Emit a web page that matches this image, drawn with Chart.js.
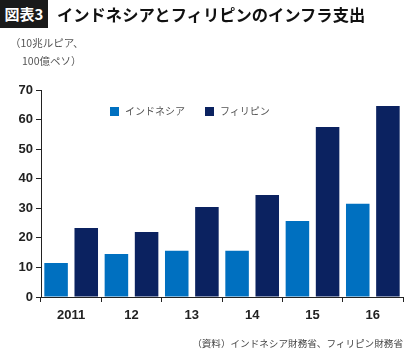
<!DOCTYPE html>
<html>
<head>
<meta charset="utf-8">
<script src="https://cdn.jsdelivr.net/npm/chart.js@4/dist/chart.umd.min.js"></script>
<style>
  body { margin: 0; background: #fff; }
  #wrap { position: relative; width: 418px; height: 360px; overflow: hidden; }
  #wrap canvas { position: absolute; left: 0; top: 0; }
  .jp { font-family: "Noto Sans CJK JP", sans-serif; position: absolute; white-space: nowrap; }
  #tag { left: 0; top: 0; width: 48px; height: 28px; background: #1a1a1a; color: #fff;
         font-weight: bold; font-size: 15px; line-height: 28px; text-align: center; }
  #title { left: 57px; top: 2px; font-weight: bold; font-size: 16.3px; line-height: 24px; color: #111; }
  #unit { left: 10px; top: 34px; font-size: 10.5px; line-height: 18px; color: #555; }
  #unit .l2 { padding-left: 12px; }
  #legend { left: 110px; top: 103px; font-size: 10px; line-height: 16px; color: #555; }
  #legend span.box { display: inline-block; width: 9px; height: 9px; margin-right: 6px; vertical-align: -1px; }
  #source { right: 15px; top: 335px; font-size: 9.6px; line-height: 16px; color: #444; }
</style>
</head>
<body>
<div id="wrap">
  <canvas id="chart" width="418" height="360"></canvas>
  <div class="jp" id="tag">図表3</div>
  <div class="jp" id="title">インドネシアとフィリピンのインフラ支出</div>
  <div class="jp" id="unit">（10兆ルピア、<br><span class="l2">100億ペソ）</span></div>
  <div class="jp" id="legend"></div>
  <div class="jp" id="source">（資料）インドネシア財務省、フィリピン財務省</div>
</div>
<script>
const years = ["2011", "12", "13", "14", "15", "16"];
const seriesNames = ["インドネシア", "フィリピン"];
const indonesia = [11.5, 14.5, 15.6, 15.6, 25.7, 31.5];
const philippines = [23.3, 22.0, 30.4, 34.5, 57.5, 64.6];
const barColors = ["#0070c0", "#0b2260"];

const ctx = document.getElementById("chart").getContext("2d");

let chart = new Chart(ctx, {
  type: "bar",
  data: {
    labels: years,
    datasets: [
      { label: seriesNames[0], data: indonesia, backgroundColor: barColors[0] },
      { label: seriesNames[1], data: philippines, backgroundColor: barColors[1] },
    ],
  },
  options: {
    responsive: false,
    animation: false,
    categoryPercentage: 1.0,
    barPercentage: 0.78,
    layout: { padding: { top: 90, right: 15, left: 0, bottom: 0 } },
    plugins: { legend: { display: false }, tooltip: { enabled: false } },
    scales: {
      x: {
        grid: { offset: true, drawOnChartArea: false, tickLength: 5, color: "#222" },
        border: { color: "#222" },
        ticks: {
          color: "#222",
          padding: 6,
          font: { family: "Liberation Sans, Arial, sans-serif", size: 13, weight: "bold" },
        },
        afterFit: (s) => { s.height = 63; },
      },
      y: {
        min: 0,
        max: 70,
        ticks: {
          stepSize: 10,
          color: "#222",
          padding: 3,
          font: { family: "Liberation Sans, Arial, sans-serif", size: 13, weight: "bold" },
        },
        grid: { drawOnChartArea: false, tickLength: 5, color: "#222" },
        border: { color: "#222" },
        afterFit: (s) => { s.width = 41; },
      },
    },
  },
});

// legend
const legend = document.getElementById("legend");
legend.innerHTML = seriesNames
  .map((n, i) => `<span class="box" style="background:${barColors[i]}"></span>${n}`)
  .join('<span style="display:inline-block;width:20px"></span>');
</script>
</body>
</html>
